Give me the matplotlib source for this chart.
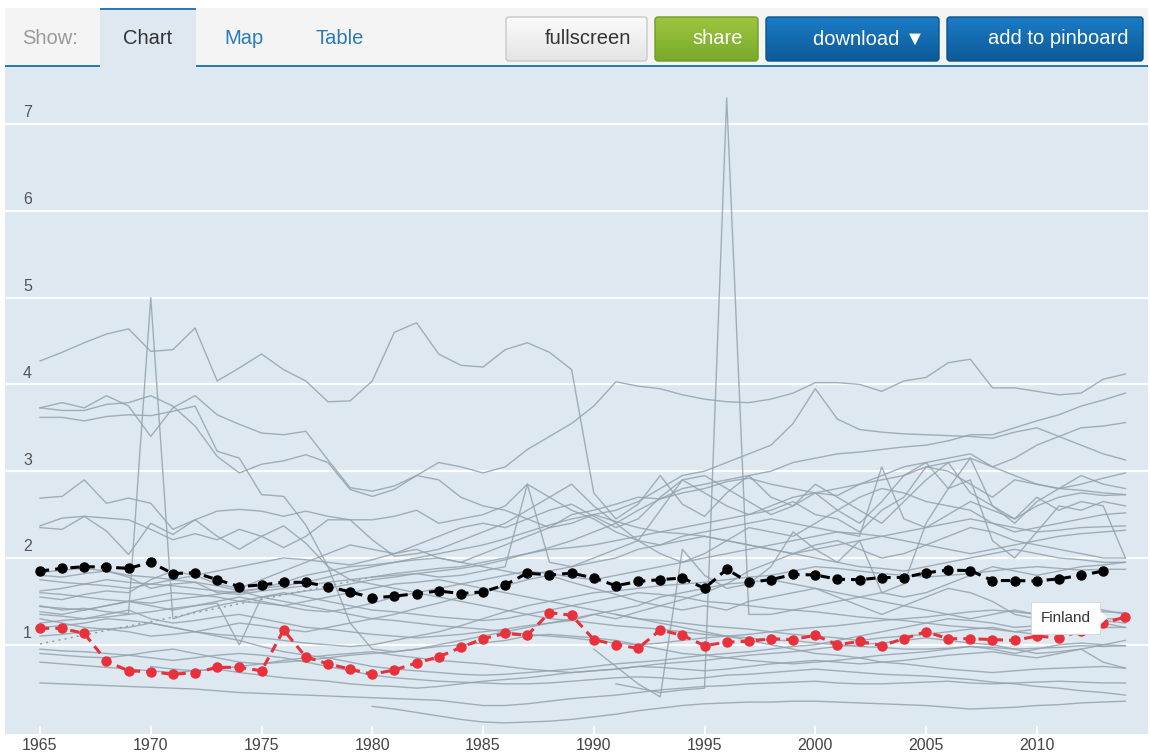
import numpy as np
import matplotlib
matplotlib.use("Agg")
import matplotlib.pyplot as plt
from matplotlib.patches import Rectangle, FancyBboxPatch, Polygon
from matplotlib.colors import LinearSegmentedColormap
from matplotlib.transforms import blended_transform_factory

plt.rcParams["font.family"] = ["Liberation Sans", "DejaVu Sans"]

nan = np.nan
years = list(range(1965, 2015))
tick_years = [1965, 1970, 1975, 1980, 1985, 1990, 1995, 2000, 2005, 2010]
grid_values = [1, 2, 3, 4, 5, 6, 7]
grid_labels = ["1", "2", "3", "4", "5", "6", "7"]

finland = [
    1.19, 1.19, 1.13, 0.81, 0.70, 0.69, 0.66, 0.68, 0.74, 0.74,
    0.70, 1.17, 0.86, 0.78, 0.72, 0.66, 0.71, 0.79, 0.86, 0.97,
    1.07, 1.13, 1.11, 1.37, 1.34, 1.06, 1.00, 0.96, 1.17, 1.11,
    0.99, 1.03, 1.04, 1.07, 1.06, 1.11, 1.00, 1.04, 0.99, 1.07,
    1.15, 1.07, 1.07, 1.06, 1.05, 1.10, 1.08, 1.16, 1.25, 1.32,
]
oecd = [
    1.85, 1.88, 1.90, 1.895, 1.88, 1.95, 1.82, 1.83, 1.75, 1.67,
    1.69, 1.72, 1.72, 1.67, 1.61, 1.54, 1.56, 1.59, 1.62, 1.59,
    1.61, 1.69, 1.825, 1.805, 1.825, 1.77, 1.68, 1.73, 1.75, 1.77,
    1.65, 1.87, 1.72, 1.75, 1.81, 1.805, 1.755, 1.75, 1.775, 1.775,
    1.83, 1.86, 1.855, 1.74, 1.74, 1.735, 1.76, 1.80, 1.85, nan,
]

# country with a gap before 1980, joined by a dotted segment
gap_years = [1965, 1980]
gap_values = [1.01, 1.78]

grey_01 = [
    4.27, 4.37, 4.48, 4.58, 4.64, 4.38, 4.40, 4.65, 4.04, 4.19,
    4.35, 4.17, 4.04, 3.80, 3.81, 4.04, 4.60, 4.71, 4.35, 4.22,
    4.20, 4.40, 4.48, 4.37, 4.17, 2.75, 2.45, 2.62, 2.95, 2.62,
    2.48, 2.75, 2.95, 2.70, 2.60, 2.85, 2.70, 2.55, 2.40, 2.65,
    2.90, 3.10, 2.75, 2.60, 2.40, 2.65, 2.80, 2.85, 2.92, 2.98,
]
grey_02 = [
    3.73, 3.79, 3.73, 3.87, 3.75, 3.40, 3.73, 3.87, 3.65, 3.54,
    3.44, 3.42, 3.46, 3.13, 2.81, 2.77, 2.83, 2.95, 3.10, 3.05,
    2.98, 3.05, 3.25, 3.40, 3.55, 3.75, 4.03, 3.98, 3.95, 3.88,
    3.83, 3.80, 3.79, 3.83, 3.90, 4.02, 4.02, 4.00, 3.92, 4.04,
    4.08, 4.25, 4.29, 3.96, 3.96, 3.92, 3.88, 3.90, 4.06, 4.12,
]
grey_03 = [
    3.73, 3.70, 3.70, 3.77, 3.79, 3.87, 3.75, 3.52, 3.17, 2.98,
    3.08, 3.12, 3.19, 3.10, 2.79, 2.71, 2.79, 2.95, 2.90, 2.70,
    2.60, 2.55, 2.45, 2.35, 2.40, 2.50, 2.55, 2.65, 2.80, 2.95,
    3.00, 3.10, 3.20, 3.30, 3.55, 3.95, 3.60, 3.48, 3.45, 3.43,
    3.42, 3.41, 3.40, 3.38, 3.45, 3.50, 3.40, 3.30, 3.20, 3.13,
]
grey_04 = [
    3.62, 3.62, 3.58, 3.63, 3.65, 3.64, 3.69, 3.75, 3.23, 3.15,
    2.73, 2.71, 2.38, 1.90, 1.25, 0.95, 0.92, 0.95, 1.00, 1.05,
    1.10, 1.15, 1.20, 1.25, 1.28, 1.35, 1.30, 1.38, 1.45, 1.40,
    1.45, 1.40, 1.50, 1.55, 1.60, 1.65, 1.55, 1.45, 1.35, 1.45,
    1.55, 1.65, 1.60, 1.50, 1.35, 1.30, 1.40, 1.45, 1.40, 1.35,
]
grey_05 = [
    2.69, 2.71, 2.90, 2.63, 2.69, 2.63, 2.33, 2.44, 2.25, 2.10,
    2.25, 2.12, 2.25, 2.44, 2.44, 2.44, 2.48, 2.55, 2.40, 2.45,
    2.50, 2.60, 2.85, 2.70, 2.55, 2.45, 2.30, 2.20, 2.55, 2.90,
    2.75, 2.60, 2.50, 2.55, 2.65, 2.50, 2.45, 2.30, 2.55, 2.70,
    3.05, 3.00, 2.85, 2.70, 2.90, 2.85, 2.80, 2.95, 2.85, 2.80,
]
grey_06 = [
    2.37, 2.46, 2.48, 2.31, 2.04, 2.40, 2.27, 2.44, 2.54, 2.56,
    2.54, 2.48, 2.54, 2.48, 2.44, 2.21, 2.02, 2.05, 2.10, 2.20,
    2.30, 2.40, 2.55, 2.70, 2.85, 2.60, 2.40, 2.20, 2.05, 1.95,
    2.05, 2.20, 2.35, 2.30, 2.25, 2.40, 2.55, 2.70, 2.80, 2.75,
    2.65, 2.60, 2.55, 2.40, 2.30, 2.35, 2.40, 2.45, 2.50, 2.52,
]
grey_07 = [
    2.35, 2.33, 2.48, 2.46, 2.44, 2.33, 2.21, 2.28, 2.21, 2.33,
    2.25, 2.37, 2.17, 1.90, 1.75, 1.70, 1.65, 1.60, 1.55, 1.50,
    1.45, 1.40, 1.35, 1.30, 1.28, 1.25, 1.22, 1.20, 1.18, 1.15,
    1.12, 1.10, 1.08, 1.05, 1.05, 1.02, 1.00, 0.98, 0.97, 0.95,
    0.95, 0.96, 0.98, 0.97, 0.95, 0.96, 0.97, 0.99, 0.98, 0.99,
]
grey_08 = [
    1.45, 1.40, 1.42, 1.38, 1.36, 5.00, 1.30, 1.38, 1.45, 1.50,
    1.55, 1.58, 1.62, 1.65, 1.70, 1.75, 1.78, 1.82, 1.85, 1.88,
    1.92, 1.98, 2.05, 2.12, 2.20, 2.30, 2.40, 2.55, 2.68, 2.80,
    2.85, 2.90, 2.95, 3.00, 3.10, 3.15, 3.20, 3.22, 3.25, 3.28,
    3.30, 3.35, 3.42, 3.42, 3.50, 3.58, 3.65, 3.75, 3.82, 3.90,
]
grey_09 = [
    1.80, 1.78, 1.82, 1.85, 1.80, 1.78, 1.75, 1.80, 1.85, 1.90,
    1.95, 2.00, 1.98, 1.95, 1.92, 1.98, 2.05, 2.10, 2.00, 1.95,
    2.05, 2.15, 2.25, 2.35, 2.50, 2.55, 2.62, 2.70, 2.68, 2.75,
    2.80, 2.88, 2.92, 2.85, 2.80, 2.75, 2.72, 2.85, 2.95, 3.05,
    3.10, 3.15, 3.20, 3.05, 3.15, 3.30, 3.40, 3.50, 3.52, 3.56,
]
grey_10 = [
    1.83, 1.86, 1.88, 1.85, 1.78, 1.65, 1.70, 1.72, 1.60, 1.58,
    1.62, 1.65, 1.68, 1.72, 1.75, 1.78, 1.80, 1.82, 1.78, 1.80,
    1.85, 1.90, 2.85, 1.95, 1.90, 2.00, 2.10, 2.20, 2.15, 2.25,
    2.30, 2.35, 2.40, 2.45, 2.40, 2.35, 2.30, 2.25, 3.05, 2.45,
    2.35, 2.50, 2.65, 2.55, 2.45, 2.60, 2.70, 2.75, 2.72, 2.73,
]
grey_12 = [
    0.56, 0.55, 0.54, 0.53, 0.52, 0.51, 0.50, 0.49, 0.47, 0.45,
    0.44, 0.43, 0.42, 0.41, 0.40, 0.39, 0.38, 0.37, 0.36, 0.33,
    0.30, 0.30, 0.32, 0.35, 0.38, 0.40, 0.42, 0.45, 0.48, 0.50,
    0.52, 0.53, 0.55, 0.56, 0.57, 0.58, 0.56, 0.55, 0.55, 0.56,
    0.57, 0.58, 0.56, 0.55, 0.56, 0.57, 0.58, 0.57, 0.56, 0.56,
]
grey_14 = [
    0.80, 0.78, 0.76, 0.74, 0.72, 0.70, 0.68, 0.70, 0.72, 0.68,
    0.65, 0.62, 0.60, 0.58, 0.55, 0.53, 0.52, 0.50, 0.52, 0.55,
    0.58, 0.60, 0.62, 0.65, 0.68, 0.70, 0.72, 0.75, 0.74, 0.72,
    0.70, 0.72, 0.75, 0.78, 0.80, 0.82, 0.80, 0.78, 0.80, 0.82,
    0.85, 0.88, 0.90, 0.92, 0.88, 0.85, 0.90, 0.95, 0.80, 0.73,
]
grey_15 = [
    0.90, 0.88, 0.86, 0.85, 0.88, 0.92, 0.95, 0.90, 0.85, 0.80,
    0.78, 0.80, 0.82, 0.85, 0.88, 0.90, 0.92, 0.95, 0.98, 1.00,
    1.02, 1.05, 1.10, 1.12, 1.10, 1.08, 1.05, 1.00, 0.95, 0.90,
    0.88, 0.85, 0.82, 0.80, 0.78, 0.80, 0.82, 0.85, 0.88, 0.90,
    0.92, 0.95, 0.98, 0.95, 0.90, 0.95, 1.00, 1.02, 1.00, 0.99,
]
grey_16 = [
    1.10, 1.12, 1.15, 1.18, 1.20, 1.25, 1.20, 1.15, 1.10, 1.05,
    0.98, 0.92, 0.88, 0.85, 0.80, 0.75, 0.72, 0.70, 0.68, 0.66,
    0.65, 0.66, 0.68, 0.70, 0.72, 0.75, 0.78, 0.80, 0.82, 0.85,
    0.88, 0.90, 0.92, 0.95, 0.98, 1.00, 1.05, 1.10, 1.15, 1.20,
    1.25, 1.30, 1.28, 1.25, 1.20, 1.22, 1.25, 1.30, 1.28, 1.25,
]
grey_17 = [
    1.25, 1.28, 1.30, 1.35, 1.40, 1.30, 1.25, 1.28, 1.32, 1.35,
    1.30, 1.25, 1.20, 1.18, 1.15, 1.12, 1.10, 1.08, 1.10, 1.12,
    1.15, 1.18, 1.22, 1.25, 1.30, 1.35, 1.40, 1.45, 1.55, 1.60,
    1.65, 1.70, 1.72, 1.75, 1.70, 1.65, 1.60, 1.55, 1.50, 1.45,
    1.40, 1.35, 1.30, 1.35, 1.40, 1.35, 1.30, 1.28, 1.30, 1.30,
]
grey_18 = [
    1.35, 1.33, 1.30, 1.32, 1.35, 1.38, 1.42, 1.45, 1.48, 1.00,
    1.55, 1.60, 1.55, 1.50, 1.45, 1.40, 1.38, 1.35, 1.32, 1.30,
    1.28, 1.30, 1.35, 1.40, 1.45, 1.50, 1.55, 1.60, 1.58, 1.55,
    1.50, 1.48, 1.45, 1.42, 1.40, 1.38, 1.35, 1.32, 1.30, 1.28,
    1.25, 1.22, 1.20, 1.18, 1.15, 1.18, 1.20, 1.22, 1.25, 1.20,
]
grey_19 = [
    1.44, 1.42, 1.40, 1.45, 1.50, 1.55, 1.60, 1.58, 1.55, 1.50,
    1.48, 1.45, 1.50, 1.55, 1.60, 1.65, 1.70, 1.72, 1.75, 1.70,
    1.65, 1.60, 1.55, 1.50, 1.45, 1.40, 1.35, 1.30, 1.28, 1.25,
    1.22, 1.20, 1.18, 1.15, 1.12, 1.10, 1.08, 1.05, 1.08, 1.10,
    1.12, 1.15, 1.18, 1.20, 1.15, 1.12, 1.15, 1.18, 1.20, 1.20,
]
grey_20 = [
    1.62, 1.65, 1.70, 1.75, 1.72, 1.70, 1.68, 1.65, 1.62, 1.60,
    1.65, 1.72, 1.80, 1.85, 1.90, 1.92, 1.95, 1.98, 2.00, 1.95,
    1.90, 1.85, 1.80, 1.85, 1.90, 1.95, 2.00, 2.10, 2.15, 2.20,
    2.25, 2.20, 2.15, 2.10, 2.05, 2.00, 1.95, 1.90, 1.88, 1.85,
    1.90, 1.95, 2.00, 2.05, 2.10, 2.05, 2.00, 1.98, 1.95, 1.95,
]
grey_24 = [
    1.75, 1.72, 1.70, 1.68, 1.65, 1.70, 1.75, 1.72, 1.68, 1.62,
    1.55, 1.50, 1.45, 1.40, 1.35, 1.30, 1.28, 1.25, 1.22, 1.20,
    1.18, 1.15, 1.12, 1.10, 1.08, 1.05, 1.02, 1.00, 1.02, 1.05,
    1.08, 1.10, 1.12, 1.15, 1.18, 1.20, 1.22, 1.25, 1.28, 1.30,
    1.32, 1.35, 1.38, 1.40, 1.38, 1.35, 1.38, 1.40, 1.38, 1.37,
]
grey_25 = [
    1.60, 1.58, 1.55, 1.52, 1.50, 1.48, 1.52, 1.55, 1.58, 1.62,
    1.65, 1.68, 1.72, 1.78, 1.85, 1.90, 1.95, 2.00, 2.05, 2.10,
    2.15, 2.22, 2.30, 2.38, 2.45, 2.50, 2.42, 2.35, 2.30, 2.28,
    2.25, 2.20, 2.15, 2.10, 2.05, 2.10, 2.15, 2.20, 2.25, 2.30,
    2.35, 2.40, 2.45, 2.40, 2.35, 2.30, 2.32, 2.35, 2.36, 2.37,
]
grey_26 = [
    1.38, 1.35, 1.40, 1.45, 1.50, 1.45, 1.40, 1.45, 1.50, 1.55,
    1.50, 1.45, 1.40, 1.38, 1.42, 1.48, 1.55, 1.60, 1.65, 1.70,
    1.75, 1.80, 1.85, 1.82, 1.78, 1.75, 1.80, 1.85, 1.90, 1.95,
    2.00, 2.05, 2.10, 2.15, 2.20, 2.25, 2.30, 2.28, 2.25, 2.20,
    2.15, 2.10, 2.05, 2.10, 2.15, 2.20, 2.25, 2.28, 2.30, 2.32,
]
grey_27 = [
    1.20, 1.22, 1.25, 1.30, 1.28, 1.25, 1.20, 1.15, 1.12, 1.10,
    1.08, 1.05, 1.02, 1.00, 0.98, 1.00, 1.05, 1.10, 1.15, 1.22,
    1.30, 1.38, 1.45, 1.50, 1.55, 1.60, 1.62, 1.65, 1.68, 1.70,
    1.72, 1.75, 1.78, 1.80, 1.85, 1.90, 1.88, 1.85, 1.82, 1.80,
    1.78, 1.80, 1.82, 1.85, 1.88, 1.90, 1.88, 1.86, 1.87, 1.87,
]
grey_28 = [
    0.95, 0.93, 0.92, 0.90, 0.88, 0.85, 0.82, 0.85, 0.88, 0.90,
    0.88, 0.85, 0.80, 0.75, 0.70, 0.65, 0.62, 0.60, 0.58, 0.57,
    0.56, 0.55, 0.55, 0.56, 0.58, 0.60, 0.62, 0.63, 0.62, 0.60,
    0.62, 0.65, 0.66, 0.68, 0.70, 0.72, 0.70, 0.68, 0.66, 0.65,
    0.64, 0.62, 0.60, 0.57, 0.55, 0.52, 0.50, 0.47, 0.45, 0.42,
]
grey_29 = [
    1.55, 1.52, 1.58, 1.62, 1.60, 1.75, 1.85, 1.80, 1.70, 1.65,
    1.75, 1.85, 1.95, 2.05, 2.15, 2.10, 2.05, 2.15, 2.25, 2.35,
    2.40, 2.35, 2.45, 2.55, 2.62, 2.48, 2.35, 2.45, 2.70, 2.90,
    2.95, 2.80, 2.65, 2.50, 2.60, 2.75, 2.55, 2.40, 2.65, 2.95,
    3.10, 2.80, 3.15, 2.60, 2.45, 2.70, 2.55, 2.65, 2.60, 2.00,
]
grey_30 = [
    1.30, 1.25, 1.20, 1.18, 1.15, 1.10, 1.12, 1.15, 1.20, 1.25,
    1.22, 1.18, 1.15, 1.20, 1.25, 1.30, 1.35, 1.42, 1.48, 1.55,
    1.60, 1.68, 1.75, 1.80, 1.72, 1.65, 1.58, 1.50, 1.45, 1.52,
    1.60, 1.70, 1.85, 1.95, 2.05, 2.15, 2.20, 2.10, 2.00, 2.05,
    2.15, 2.25, 2.35, 2.30, 2.20, 2.15, 2.10, 2.05, 2.00, 2.00,
]

# series that start later: (first year, values)
grey_11 = (1991, [
    0.55, 0.50, 0.45, 0.48,
    0.50, 7.30, 1.35, 1.35, 1.40, 1.45, 1.50, 1.55, 1.60, 1.55,
    1.60, 1.70, 1.80, 1.90, 1.85, 1.80, 1.85, 1.90, 1.92, 1.95,
])
grey_13 = (1980, [
    0.29, 0.26, 0.22, 0.18, 0.14,
    0.11, 0.10, 0.11, 0.12, 0.14, 0.17, 0.20, 0.24, 0.27, 0.30,
    0.32, 0.33, 0.34, 0.34, 0.35, 0.35, 0.34, 0.33, 0.32, 0.31,
    0.30, 0.28, 0.26, 0.27, 0.28, 0.30, 0.31, 0.33, 0.34, 0.35,
])
grey_21 = (1980, [
    1.78, 1.82, 1.85, 1.88, 1.90,
    1.95, 2.00, 2.05, 2.10, 2.12, 2.15, 2.20, 2.25, 2.30, 2.35,
    2.40, 2.45, 2.50, 2.60, 2.70, 2.75, 2.80, 2.85, 2.90, 2.95,
    3.05, 3.10, 3.15, 3.05, 2.95, 2.85, 2.80, 2.78, 2.75, 2.73,
])
grey_22 = (1991, [
    1.35, 1.30, 1.25, 1.20,
    1.15, 1.10, 1.05, 1.00, 0.95, 0.90, 0.88, 0.85, 0.80, 0.78,
    0.75, 0.72, 0.70, 0.68, 0.70, 0.72, 0.73, 0.74, 0.75, 0.73,
])
grey_23 = (1990, [
    0.95, 0.75, 0.55, 0.40, 2.10,
    1.80, 1.65, 1.70, 1.90, 2.30, 2.10, 1.95, 2.20, 1.60, 1.70,
    2.40, 2.80, 2.90, 2.20, 2.00, 2.30, 2.60, 2.55, 2.65, 2.60,
])
grey_31 = (1970, [
    0.75, 0.72, 0.70, 0.72, 0.75,
    0.78, 0.82, 0.85, 0.88, 0.90, 0.92, 0.88, 0.85, 0.82, 0.80,
    0.78, 0.75, 0.72, 0.70, 0.68, 0.70, 0.72, 0.75, 0.78, 0.80,
    0.82, 0.85, 0.88, 0.90, 0.92, 0.95, 0.98, 1.00, 1.02, 1.05,
    1.08, 1.05, 1.02, 1.00, 0.95, 0.90, 0.92, 0.95, 1.00, 1.05,
])

full_series = [grey_01, grey_02, grey_03, grey_04, grey_05, grey_06, grey_07,
               grey_08, grey_09, grey_10, grey_12, grey_14, grey_15, grey_16,
               grey_17, grey_18, grey_19, grey_20, grey_24, grey_25, grey_26,
               grey_27, grey_28, grey_29, grey_30]
late_series = [grey_11, grey_13, grey_21, grey_22, grey_23, grey_31]

W, H = 1150, 756
BG = "#dde8f1"
BLUE = "#2a7ab8"
GREY_LINE = "#93a3ad"


def late_years(start, vals):
    return list(range(start, start + len(vals)))


fig = plt.figure(figsize=(W / 100, H / 100), dpi=100)
fig.patch.set_facecolor("white")

# ---- toolbar strip, drawn in pixel units ----
hdr = fig.add_axes([0, 0, 1, 1])
hdr.set_axis_off()
hdr.add_patch(Rectangle((5, 8), 1143, 58, fc="#f4f4f4", ec="none"))
hdr.add_patch(Rectangle((5, 65), 1143, 2, fc=BLUE, ec="none"))
hdr.add_patch(Rectangle((100, 8), 96, 59, fc=BG, ec="none", zorder=2))
hdr.add_patch(Rectangle((100, 8), 96, 2, fc=BLUE, ec="none", zorder=3))

hdr.text(22, 38, "Show:", color="#9a9a9a", fontsize=14.5, va="center")
hdr.text(148, 38, "Chart", color="#333333", fontsize=14.5, va="center", ha="center", zorder=4)
hdr.text(244, 38, "Map", color=BLUE, fontsize=14.5, va="center", ha="center")
hdr.text(340, 38, "Table", color=BLUE, fontsize=14.5, va="center", ha="center")


def button(x0, x1, c_top, c_bot, edge, label, tcolor, tx):
    y0, y1 = 17, 61
    box = FancyBboxPatch((x0, y0), x1 - x0, y1 - y0,
                         boxstyle="round,pad=0,rounding_size=3",
                         fc="none", ec=edge, lw=1, zorder=3)
    hdr.add_patch(box)
    cmap = LinearSegmentedColormap.from_list("btn", [c_top, c_bot])
    grad = np.linspace(0, 1, 60)[:, None]
    im = hdr.imshow(grad, extent=(x0, x1, y1, y0), cmap=cmap,
                    aspect="auto", zorder=2, origin="upper")
    im.set_clip_path(box)
    hdr.text(tx, 39, label, color=tcolor, fontsize=14.5, va="center",
             ha="center", zorder=4)


button(506, 647, "#fbfbfb", "#e4e4e4", "#c8c8c8", "fullscreen", "#333333", 588)
button(655, 758, "#9dc640", "#78a92a", "#6e9c26", "share", "white", 718)
button(766, 939, "#1b7cc6", "#0c5a98", "#0a538d", "download \u25bc", "white", 869)
button(947, 1143, "#1b7cc6", "#0c5a98", "#0a538d", "add to pinboard", "white", 1058)

hdr.set_xlim(0, W)
hdr.set_ylim(H, 0)

# ---- chart area ----
ax = fig.add_axes([5 / W, 1 - 734 / H, 1143 / W, 667 / H])
ax.set_facecolor(BG)
ax.set_xlim(1963.42, 2015.02)
ax.set_ylim(-0.028, 7.657)
for s in ax.spines.values():
    s.set_visible(False)

for v in grid_values:
    ax.axhline(v, color="white", lw=1.6, zorder=1)

lbl_tr = blended_transform_factory(ax.transAxes, ax.transData)
for v, t in zip(grid_values, grid_labels):
    ax.annotate(t, xy=(18 / 1143, v), xycoords=lbl_tr, xytext=(0, 8),
                textcoords="offset points", ha="left", va="center",
                fontsize=11.5, color="#555555")

ax.set_yticks([])
ax.set_xticks(tick_years)
ax.set_xticklabels([str(y) for y in tick_years])
ax.tick_params(axis="x", direction="in", length=6, width=1.5, color="white",
               labelsize=11.5, labelcolor="#444444", pad=3)

for vals in full_series:
    ax.plot(years, vals, color=GREY_LINE, lw=1.0, alpha=0.85, zorder=2)
for start, vals in late_series:
    ax.plot(late_years(start, vals), vals, color=GREY_LINE, lw=1.0,
            alpha=0.85, zorder=2)
ax.plot(gap_years, gap_values, color="#8d9aa3", lw=1.0, ls=(0, (1.5, 3)),
        zorder=2)

ax.plot(years, oecd, color="black", lw=2.2, dashes=(3, 2), marker="o",
        ms=6.5, mfc="black", mec="black", zorder=4)
ax.plot(years, finland, color="#e8313b", lw=2.2, dashes=(3, 2), marker="o",
        ms=6.5, mfc="#e8313b", mec="#e8313b", zorder=5)

# hover label for Finland
ax.add_patch(Rectangle((2009.74, 1.124), 3.12, 0.369, fc="white",
                       ec="#d0d6da", lw=0.6, zorder=6))
ax.add_patch(Polygon([(2012.85, 1.39), (2013.2, 1.31), (2012.85, 1.23)],
                     closed=True, fc="white", ec="none", zorder=6))
ax.text(2011.3, 1.31, "Finland", fontsize=11, color="#333333",
        ha="center", va="center", zorder=7)

fig.savefig("out.png", dpi=100, facecolor="white")
